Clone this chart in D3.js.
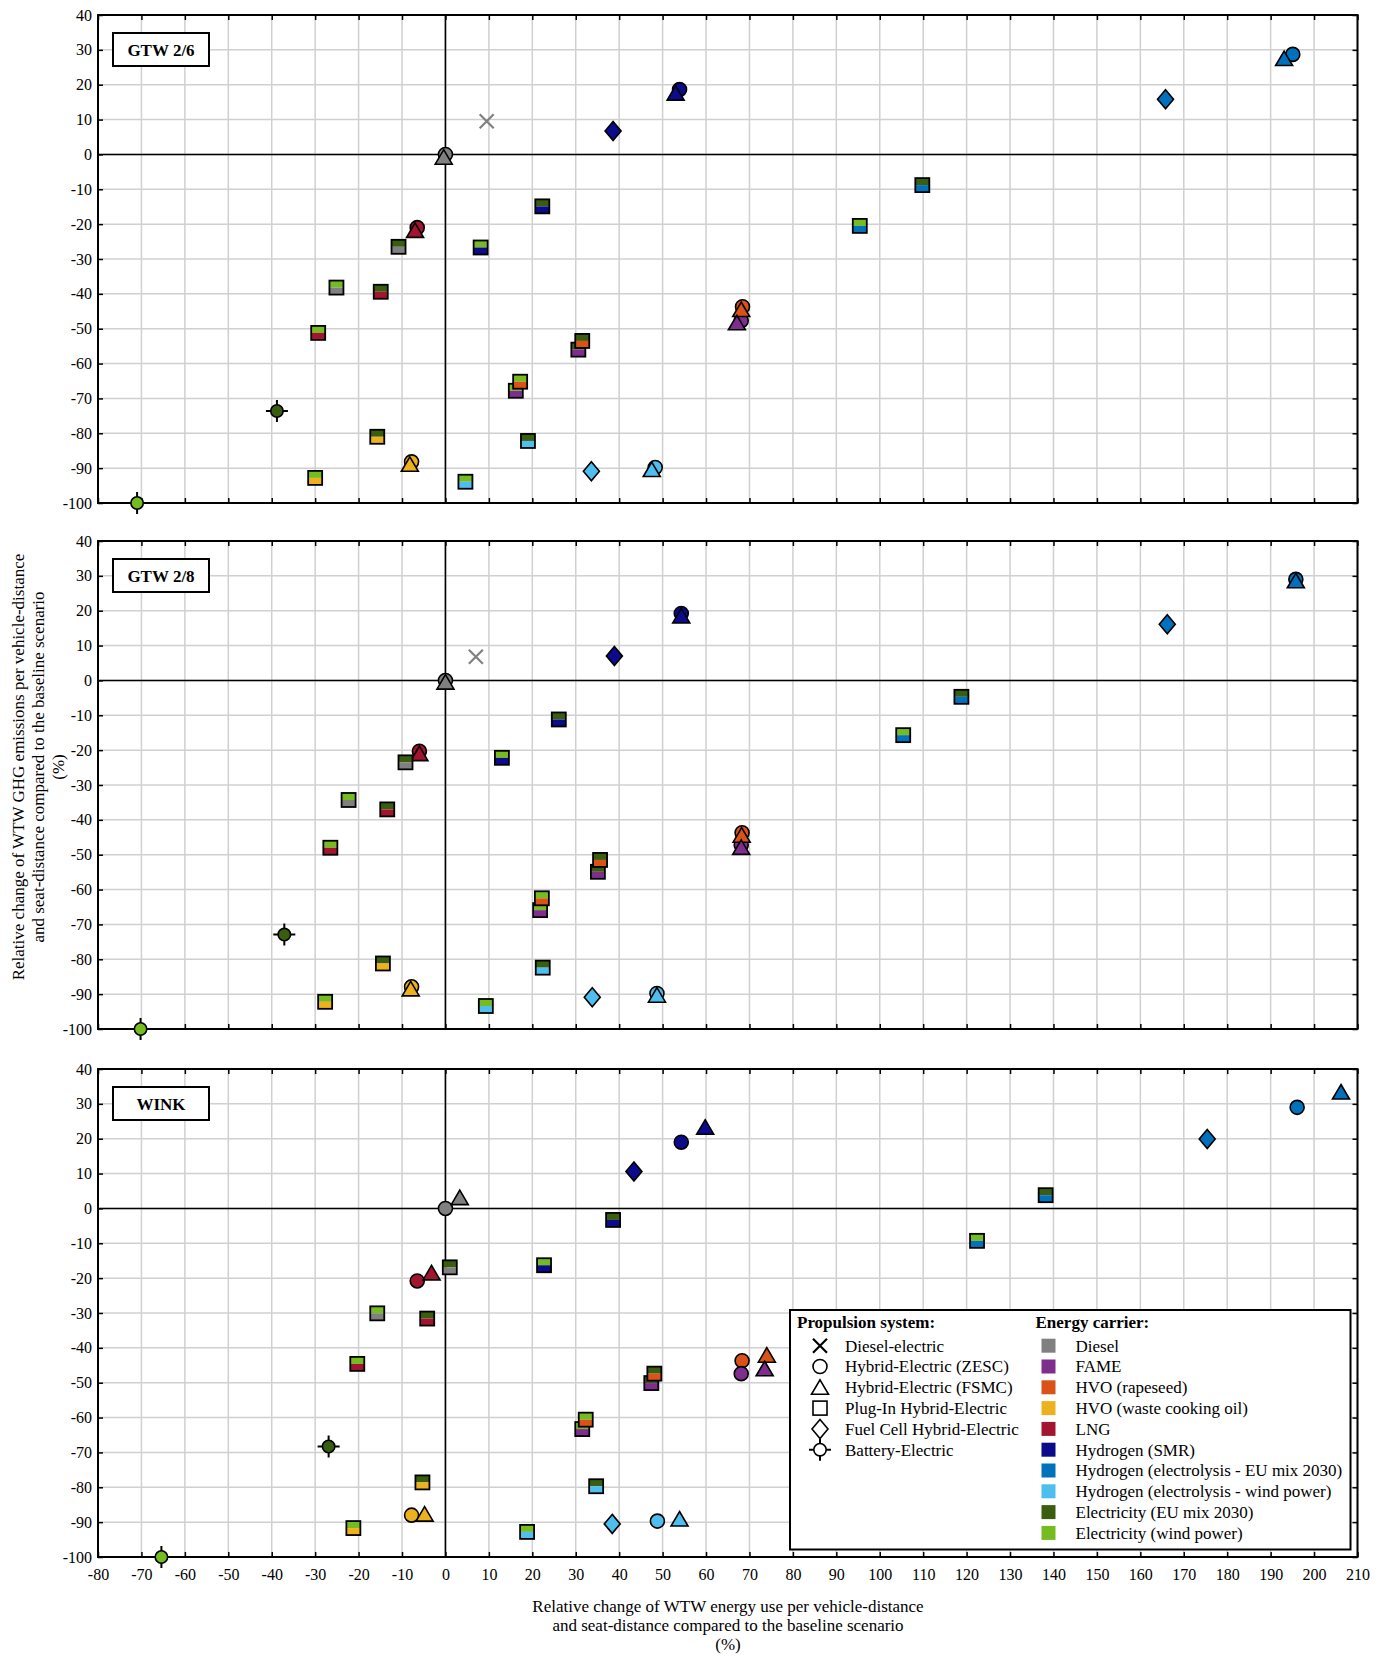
<!DOCTYPE html>
<html>
<head>
<meta charset="utf-8">
<script src="https://cdn.jsdelivr.net/npm/d3@7"></script>
<style>
body { margin: 0; background: #fff; }
svg text { font-family: "Liberation Serif", "Times New Roman", serif; fill: #000; }
</style>
</head>
<body>
<script>

// panels and categories
var panelNames = ["GTW 2/6", "GTW 2/8", "WINK"];
var systemKeys = ["DE", "ZESC", "FSMC", "PHEV", "FC", "BE"];
var systemNames = ["Diesel-electric", "Hybrid-Electric (ZESC)", "Hybrid-Electric (FSMC)",
    "Plug-In Hybrid-Electric", "Fuel Cell Hybrid-Electric", "Battery-Electric"];
var carrierKeys = ["D", "FAME", "HVOr", "HVOw", "LNG", "H2s", "H2eu", "H2w", "Eeu", "Ew"];
var carrierNames = ["Diesel", "FAME", "HVO (rapeseed)", "HVO (waste cooking oil)", "LNG",
    "Hydrogen (SMR)", "Hydrogen (electrolysis - EU mix 2030)", "Hydrogen (electrolysis - wind power)",
    "Electricity (EU mix 2030)", "Electricity (wind power)"];
var carrierColors = ["#808080", "#7e2f8e", "#d95319", "#edb120", "#a2142f",
    "#0b0b8c", "#0072bd", "#4dbeee", "#395e10", "#74bc1f"];

var xTicks = [-80, -70, -60, -50, -40, -30, -20, -10, 0, 10, 20, 30, 40, 50, 60, 70, 80, 90, 100,
    110, 120, 130, 140, 150, 160, 170, 180, 190, 200, 210];
var yTicks = [40, 30, 20, 10, 0, -10, -20, -30, -40, -50, -60, -70, -80, -90, -100];

// rows: system, fuel carrier, electricity carrier (plug-in only), energy change, GHG change
var gtw26 = [
    ["DE", "D", null, 9.5, 9.5],
    ["ZESC", "D", null, 0, 0], ["FSMC", "D", null, -0.4, -0.8],
    ["ZESC", "H2s", null, 53.9, 18.6], ["FSMC", "H2s", null, 53.0, 17.6],
    ["ZESC", "H2eu", null, 195.1, 28.7], ["FSMC", "H2eu", null, 193.1, 27.5],
    ["ZESC", "LNG", null, -6.5, -21.0], ["FSMC", "LNG", null, -7.0, -21.8],
    ["ZESC", "HVOr", null, 68.4, -43.7], ["FSMC", "HVOr", null, 68.1, -44.5],
    ["ZESC", "FAME", null, 68.1, -47.7], ["FSMC", "FAME", null, 67.1, -48.3],
    ["ZESC", "HVOw", null, -7.8, -88.2], ["FSMC", "HVOw", null, -8.2, -88.9],
    ["ZESC", "H2w", null, 48.3, -89.8], ["FSMC", "H2w", null, 47.5, -90.4],
    ["PHEV", "D", "Eeu", -10.8, -26.5], ["PHEV", "D", "Ew", -25.1, -38.2],
    ["PHEV", "LNG", "Eeu", -14.9, -39.4], ["PHEV", "LNG", "Ew", -29.3, -51.2],
    ["PHEV", "H2s", "Eeu", 22.3, -14.9], ["PHEV", "H2s", "Ew", 8.1, -26.7],
    ["PHEV", "H2eu", "Eeu", 109.8, -8.8], ["PHEV", "H2eu", "Ew", 95.4, -20.5],
    ["PHEV", "FAME", "Eeu", 30.6, -56.0], ["PHEV", "HVOr", "Eeu", 31.5, -53.5],
    ["PHEV", "FAME", "Ew", 16.2, -67.8], ["PHEV", "HVOr", "Ew", 17.2, -65.2],
    ["PHEV", "HVOw", "Eeu", -15.7, -81.0], ["PHEV", "HVOw", "Ew", -30.0, -92.8],
    ["PHEV", "H2w", "Eeu", 19.0, -82.2], ["PHEV", "H2w", "Ew", 4.6, -93.9],
    ["FC", "H2s", null, 38.6, 6.7], ["FC", "H2eu", null, 165.8, 15.8], ["FC", "H2w", null, 33.6, -90.9],
    ["BE", "Eeu", null, -38.8, -73.6], ["BE", "Ew", null, -71.0, -100]
];

var gtw28 = [
    ["DE", "D", null, 7.0, 6.8],
    ["ZESC", "D", null, 0, 0], ["FSMC", "D", null, 0, -0.5],
    ["ZESC", "H2s", null, 54.3, 19.2], ["FSMC", "H2s", null, 54.3, 18.5],
    ["ZESC", "H2eu", null, 195.8, 29.0], ["FSMC", "H2eu", null, 195.8, 28.6],
    ["ZESC", "LNG", null, -6.0, -20.3], ["FSMC", "LNG", null, -6.0, -21.0],
    ["ZESC", "HVOr", null, 68.3, -43.7], ["FSMC", "HVOr", null, 68.2, -44.4],
    ["ZESC", "FAME", null, 68.1, -47.2], ["FSMC", "FAME", null, 68.1, -47.9],
    ["ZESC", "HVOw", null, -7.8, -87.9], ["FSMC", "HVOw", null, -8.0, -88.5],
    ["ZESC", "H2w", null, 48.7, -89.8], ["FSMC", "H2w", null, 48.7, -90.3],
    ["PHEV", "D", "Eeu", -9.2, -23.5], ["PHEV", "D", "Ew", -22.3, -34.3],
    ["PHEV", "LNG", "Eeu", -13.4, -37.0], ["PHEV", "LNG", "Ew", -26.5, -48.0],
    ["PHEV", "H2s", "Eeu", 26.1, -11.2], ["PHEV", "H2s", "Ew", 13.0, -22.2],
    ["PHEV", "H2eu", "Eeu", 118.8, -4.7], ["PHEV", "H2eu", "Ew", 105.4, -15.7],
    ["PHEV", "FAME", "Eeu", 35.1, -54.9], ["PHEV", "HVOr", "Eeu", 35.6, -51.5],
    ["PHEV", "FAME", "Ew", 21.8, -65.9], ["PHEV", "HVOr", "Ew", 22.2, -62.5],
    ["PHEV", "HVOw", "Eeu", -14.4, -81.2], ["PHEV", "HVOw", "Ew", -27.7, -92.2],
    ["PHEV", "H2w", "Eeu", 22.4, -82.4], ["PHEV", "H2w", "Ew", 9.3, -93.4],
    ["FC", "H2s", null, 38.9, 7.0], ["FC", "H2eu", null, 166.2, 16.1], ["FC", "H2w", null, 33.8, -90.9],
    ["BE", "Eeu", null, -37.1, -72.9], ["BE", "Ew", null, -70.2, -100]
];

var wink = [
    ["ZESC", "D", null, 0, 0], ["FSMC", "D", null, 3.3, 3.1],
    ["ZESC", "H2s", null, 54.3, 19.0], ["FSMC", "H2s", null, 59.8, 23.3],
    ["ZESC", "H2eu", null, 196.1, 29.0], ["FSMC", "H2eu", null, 206.2, 33.4],
    ["ZESC", "LNG", null, -6.5, -20.8], ["FSMC", "LNG", null, -3.2, -18.5],
    ["ZESC", "HVOr", null, 68.3, -43.7], ["FSMC", "HVOr", null, 74.0, -42.1],
    ["ZESC", "FAME", null, 68.1, -47.4], ["FSMC", "FAME", null, 73.5, -46.0],
    ["ZESC", "HVOw", null, -7.8, -88.0], ["FSMC", "HVOw", null, -4.8, -87.7],
    ["ZESC", "H2w", null, 48.8, -89.7], ["FSMC", "H2w", null, 53.9, -89.1],
    ["PHEV", "D", "Eeu", 1.0, -16.9], ["PHEV", "D", "Ew", -15.7, -30.1],
    ["PHEV", "LNG", "Eeu", -4.2, -31.6], ["PHEV", "LNG", "Ew", -20.3, -44.6],
    ["PHEV", "H2s", "Eeu", 38.6, -3.3], ["PHEV", "H2s", "Ew", 22.7, -16.3],
    ["PHEV", "H2eu", "Eeu", 138.2, 3.8], ["PHEV", "H2eu", "Ew", 122.4, -9.3],
    ["PHEV", "FAME", "Eeu", 47.4, -50.1], ["PHEV", "HVOr", "Eeu", 48.1, -47.4],
    ["PHEV", "FAME", "Ew", 31.5, -63.3], ["PHEV", "HVOr", "Ew", 32.3, -60.6],
    ["PHEV", "HVOw", "Eeu", -5.3, -78.6], ["PHEV", "HVOw", "Ew", -21.2, -91.7],
    ["PHEV", "H2w", "Eeu", 34.7, -79.7], ["PHEV", "H2w", "Ew", 18.8, -92.8],
    ["FC", "H2s", null, 43.4, 10.6], ["FC", "H2eu", null, 175.4, 19.9], ["FC", "H2w", null, 38.4, -90.5],
    ["BE", "Eeu", null, -26.9, -68.3], ["BE", "Ew", null, -65.4, -100]
];

var panelData = [gtw26, gtw28, wink];

var w = 1388;
var h = 1656;
var left = 98, right = 1357.5, panelH = 488;
var panelTops = [15, 541, 1069];

var color = d3.scaleOrdinal().domain(carrierKeys).range(carrierColors);

var svg = d3.select("body")
    .append("svg")
    .attr("width", w)
    .attr("height", h);

var xScale = d3.scaleLinear()
    .domain([-80, 210])
    .range([left, right]);

// marker shapes, drawn around 0,0
function drawMarker(g, sys, fill, fill2) {
    if (sys == "DE") {
        g.append("path").attr("d", "M-7,-7L7,7M-7,7L7,-7")
            .attr("stroke", fill).attr("stroke-width", 2.2).attr("fill", "none");
    } else if (sys == "ZESC") {
        g.append("circle").attr("r", 7).attr("fill", fill)
            .attr("stroke", "#000").attr("stroke-width", 1.6);
    } else if (sys == "FSMC") {
        g.append("path").attr("d", "M0,-7.5L8.5,7L-8.5,7Z").attr("fill", fill)
            .attr("stroke", "#000").attr("stroke-width", 1.6).attr("stroke-linejoin", "miter");
    } else if (sys == "PHEV") {
        if (fill2) {
            g.append("rect").attr("x", -7).attr("y", -7).attr("width", 14).attr("height", 7).attr("fill", fill2);
            g.append("rect").attr("x", -7).attr("y", 0).attr("width", 14).attr("height", 7).attr("fill", fill);
            g.append("rect").attr("x", -7).attr("y", -7).attr("width", 14).attr("height", 14)
                .attr("fill", "none").attr("stroke", "#000").attr("stroke-width", 1.8);
        } else {
            g.append("rect").attr("x", -7).attr("y", -7).attr("width", 14).attr("height", 14)
                .attr("fill", fill).attr("stroke", "#000").attr("stroke-width", 1.6);
        }
    } else if (sys == "FC") {
        g.append("path").attr("d", "M0,-9.5L8,0L0,9.5L-8,0Z").attr("fill", fill)
            .attr("stroke", "#000").attr("stroke-width", 1.6);
    } else if (sys == "BE") {
        g.append("path").attr("d", "M0,-11V11M-11,0H11")
            .attr("stroke", "#000").attr("stroke-width", 2);
        g.append("circle").attr("r", 6.2).attr("fill", fill)
            .attr("stroke", "#000").attr("stroke-width", 1.6);
    }
}

panelData.forEach(function(rows, i) {
    var top = panelTops[i];
    var bottom = top + panelH;
    var g = svg.append("g");

    var yScale = d3.scaleLinear()
        .domain([-100, 40])
        .range([bottom, top]);

    // grid
    g.selectAll(".vgrid")
        .data(xTicks)
        .enter()
        .append("line")
        .attr("x1", function(d) { return xScale(d); })
        .attr("x2", function(d) { return xScale(d); })
        .attr("y1", top)
        .attr("y2", bottom)
        .attr("stroke", "#d0d0d0")
        .attr("stroke-width", 1.5);
    g.selectAll(".hgrid")
        .data(yTicks)
        .enter()
        .append("line")
        .attr("x1", left)
        .attr("x2", right)
        .attr("y1", function(d) { return yScale(d); })
        .attr("y2", function(d) { return yScale(d); })
        .attr("stroke", "#d0d0d0")
        .attr("stroke-width", 1.5);

    // zero lines
    g.append("line").attr("x1", xScale(0)).attr("x2", xScale(0))
        .attr("y1", top).attr("y2", bottom).attr("stroke", "#000").attr("stroke-width", 1.6);
    g.append("line").attr("x1", left).attr("x2", right)
        .attr("y1", yScale(0)).attr("y2", yScale(0)).attr("stroke", "#000").attr("stroke-width", 1.6);

    // axes, ticks pointing in
    g.append("g")
        .attr("transform", "translate(" + left + ",0)")
        .call(d3.axisLeft(yScale).tickValues(yTicks).tickSize(-5).tickPadding(6)
            .tickFormat(function(d) { return String(d); }));
    g.append("g")
        .attr("transform", "translate(" + right + ",0)")
        .call(d3.axisRight(yScale).tickValues(yTicks).tickSize(-5).tickFormat(""));
    g.append("g")
        .attr("transform", "translate(0," + top + ")")
        .call(d3.axisTop(xScale).tickValues(xTicks).tickSize(-5).tickFormat(""));
    g.append("g")
        .attr("transform", "translate(0," + bottom + ")")
        .call(d3.axisBottom(xScale).tickValues(xTicks).tickSize(-5).tickPadding(12)
            .tickFormat(i == 2 ? function(d) { return String(d); } : ""));

    g.selectAll(".domain").remove();
    g.selectAll(".tick line").attr("stroke", "#000").attr("stroke-width", 1.5);
    g.selectAll(".tick text")
        .attr("font-size", 16)
        .style("font-family", "'Liberation Serif', 'Times New Roman', serif");

    // frame
    g.append("rect")
        .attr("x", left).attr("y", top)
        .attr("width", right - left).attr("height", panelH)
        .attr("fill", "none").attr("stroke", "#000").attr("stroke-width", 2);

    // panel label
    g.append("rect")
        .attr("x", 113).attr("y", top + 18)
        .attr("width", 96).attr("height", 33)
        .attr("fill", "#fff").attr("stroke", "#000").attr("stroke-width", 2);
    g.append("text")
        .attr("x", 161).attr("y", top + 40.5)
        .attr("text-anchor", "middle")
        .attr("font-size", 17)
        .attr("font-weight", "bold")
        .text(panelNames[i]);

    // points, drawn by propulsion type
    systemKeys.forEach(function(sys) {
        rows.filter(function(d) { return d[0] == sys; }).forEach(function(d) {
            var m = g.append("g")
                .attr("transform", "translate(" + xScale(d[3]) + "," + yScale(d[4]) + ")");
            drawMarker(m, sys, color(d[1]), d[2] ? color(d[2]) : null);
        });
    });
});

// legend in the bottom panel
var lg = svg.append("g");
lg.append("rect")
    .attr("x", 790).attr("y", 1310)
    .attr("width", 560.5).attr("height", 239.5)
    .attr("fill", "#fff").attr("stroke", "#000").attr("stroke-width", 2);

lg.append("text").attr("x", 797).attr("y", 1328)
    .attr("font-size", 17).attr("font-weight", "bold").text("Propulsion system:");
lg.append("text").attr("x", 1035.5).attr("y", 1328)
    .attr("font-size", 17).attr("font-weight", "bold").text("Energy carrier:");

var rowY = function(k) { return 1345.7 + k * 20.8; };

systemNames.forEach(function(name, k) {
    var m = lg.append("g").attr("transform", "translate(820," + rowY(k) + ")");
    drawMarker(m, systemKeys[k], systemKeys[k] == "DE" ? "#000" : "#fff", null);
    lg.append("text").attr("x", 845).attr("y", rowY(k) + 5.8)
        .attr("font-size", 17).text(name);
});

carrierNames.forEach(function(name, k) {
    lg.append("rect")
        .attr("x", 1041.5).attr("y", rowY(k) - 7)
        .attr("width", 14).attr("height", 14)
        .attr("fill", carrierColors[k]);
    lg.append("text").attr("x", 1075.5).attr("y", rowY(k) + 5.8)
        .attr("font-size", 17).text(name);
});

// axis titles
var yTitle = ["Relative change of WTW GHG emissions per vehicle-distance",
    "and seat-distance compared to the baseline scenario", "(%)"];
yTitle.forEach(function(t, k) {
    svg.append("text")
        .attr("transform", "translate(" + (24 + k * 20) + ",767) rotate(-90)")
        .attr("text-anchor", "middle")
        .attr("font-size", 17)
        .text(t);
});

var xTitle = ["Relative change of WTW energy use per vehicle-distance",
    "and seat-distance compared to the baseline scenario", "(%)"];
xTitle.forEach(function(t, k) {
    svg.append("text")
        .attr("x", 728).attr("y", 1612 + k * 19)
        .attr("text-anchor", "middle")
        .attr("font-size", 17)
        .text(t);
});

</script>
</body>
</html>
